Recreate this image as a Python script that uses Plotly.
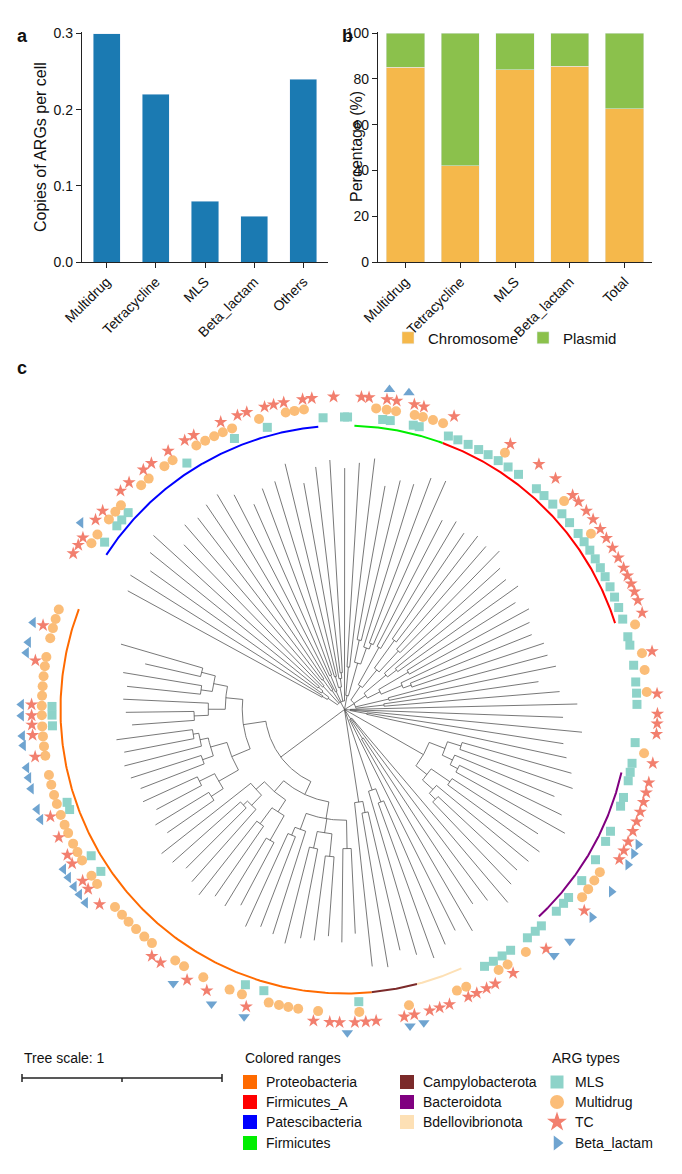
import numpy as np
import plotly.graph_objects as go

W, H = 682, 1174
OFF = 8  # the page body margin that shifts the figure
FW, FH = W - 2 * OFF, H - 2 * OFF

# ---- panel a / b data
ARG_CLASSES = ["Multidrug", "Tetracycline", "MLS", "Beta_lactam", "Others"]
COPIES_PER_CELL = [0.30, 0.22, 0.08, 0.06, 0.24]
LOC_CLASSES = ["Multidrug", "Tetracycline", "MLS", "Beta_lactam", "Total"]
CHROMOSOME_PCT = [85, 42, 84, 85.5, 67]
PLASMID_PCT = [15, 58, 16, 14.5, 33]

# ---- panel c data
TREE_NEWICK = (
    "("
    "(((:0.78,:0.80):0.02,(:0.74,(:0.76,:0.79):0.02):0.03):0.04,(:0.70,:0.75):0.08,"
    "((:0.72,:0.74):0.05,:0.80):0.05,(:0.78,(:0.66,:0.70):0.06):0.04,"
    "((:0.72,:0.77):0.04,(:0.70,(:0.73,:0.75):0.02):0.03):0.05,:0.82):0.03,"
    "((:0.72,:0.74):0.10,((:0.55,:0.58):0.08,(:0.60,(:0.62,:0.63):0.02):0.06):0.12):0.05,"
    "(((:0.50,:0.52):0.15,((:0.45,:0.47):0.12,(:0.48,:0.50):0.10):0.08):0.06,"
    "((:0.55,(:0.50,:0.52):0.04):0.10,((:0.45,:0.48):0.12,(:0.50,(:0.46,:0.49):0.03):0.08):0.05):0.05,"
    "(:0.58,:0.60):0.12,(:0.55,:0.62):0.10):0.04,"
    "(:0.80,:0.75,:0.82,(:0.70,:0.72):0.06):0.02,"
    "(((:0.40,:0.42):0.05,(:0.38,(:0.40,:0.44):0.03):0.04):0.06,"
    "((:0.36,:0.40):0.08,(:0.42,(:0.38,:0.40):0.03):0.05):0.05):0.32,"
    "(:0.85,:0.80,(:0.70,:0.78):0.08,:0.83):0.04,"
    "((:0.55,:0.58):0.05,:0.60):0.30,"
    "((:0.50,:0.55):0.04,:0.58):0.33,"
    "((((:0.30,:0.33):0.10,((:0.28,:0.30):0.08,(:0.32,:0.35):0.06):0.05,(:0.38,(:0.34,:0.36):0.03):0.06):0.06,"
    "(((:0.25,:0.28):0.10,(:0.30,:0.33):0.07):0.05,((:0.34,(:0.30,:0.32):0.02):0.05,:0.40):0.04):0.05):0.05,"
    "((((:0.20,:0.22):0.05,(:0.18,:0.21):0.06):0.08,((:0.24,:0.26):0.04,(:0.28,(:0.25,:0.27):0.02):0.03):0.06):0.07,"
    "(((:0.22,:0.24):0.05,:0.30):0.06,((:0.26,:0.28):0.04,(:0.20,:0.30):0.05):0.05):0.06):0.08):0.28"
    ");"
)
LEAF_START, LEAF_END = 297.0, 648.0  # compass degrees, clockwise

RANGE_NAMES = ["Proteobacteria", "Firmicutes_A", "Patescibacteria", "Firmicutes",
               "Campylobacterota", "Bacteroidota", "Bdellovibrionota"]
RANGE_COLORS = ["#ff6a00", "#ff0000", "#0000ff", "#00ee00",
                "#7b2a2a", "#800080", "#fde0b5"]
RANGE_START = [174.5, 20.2, 303.0, 2.0, 165.2, 102.8, 155.7]
RANGE_END = [290.7, 72.3, 354.7, 20.2, 174.5, 136.8, 165.2]

MLS_ANG = [355.8, 0, 0.6, 7.5, 9, 13.6, 14.8, 20.8, 22.8, 25, 27.3, 29.4, 31.7, 34, 36.5,
           41, 43, 45.4, 48, 50.3, 53, 55, 57, 59, 61, 63, 65.2, 67.4, 69.6, 72, 75.6, 77.3,
           81.3, 84.6, 86.8, 89, 96.5, 100.6, 102.4, 104.1, 107.5, 109.3, 114.6, 116.8, 120.9,
           125.8, 130, 131.5, 133.6, 137.7, 139.3, 141.3, 145.4, 147.4, 149.4, 151.4, 177.2,
           196, 199.8, 236.4, 240, 250, 251.5, 266.8, 268.9, 270.6, 304.9, 308.9, 310.4, 312.3,
           327.4, 337.9, 344.7]
MULTIDRUG_ANG = [303.3, 305.3, 308.9, 310.8, 312.4, 317.8, 319.7, 323.5, 325.4, 330.7, 332.6,
                 334.5, 336.3, 338.2, 343.6, 348.8, 350.5, 352.3, 6, 8, 9.8, 13.4, 15, 17, 19,
                 32, 46.5, 54.5, 73.7, 79.3, 82.5, 86.7, 98.3, 122.5, 124.4, 126.4, 128.3, 143.2,
                 147.4, 149.4, 156.3, 158.2, 167.7, 177.2, 185, 188.8, 190.7, 192.5, 194.5, 199.8,
                 202.3, 207.8, 212, 214, 219.5, 221.4, 223.5, 225.5, 227.3, 229.3, 234.8, 236.7,
                 240.1, 241.9, 243.7, 245.9, 247.6, 249.6, 251.8, 253.6, 255.6, 257.5, 261.2, 263,
                 264.9, 266.8, 268.9, 270.7, 272.6, 274.4, 276.3, 278.2, 280, 283.6, 285.6, 287.4,
                 289.3]
TC_ANG = [299.9, 301.7, 303.3, 307.3, 309.4, 314.3, 316.5, 320, 321.9, 325.7, 329.3, 331.2,
          336.7, 340, 341.8, 345.2, 346.9, 348.8, 352.3, 354, 358, 3.1, 4.5, 7.8, 9.6, 12.9,
          14.7, 20.5, 32, 38.4, 42.4, 46.8, 48.4, 50.6, 52.6, 54.8, 56.8, 58.9, 61, 63.1, 64.7,
          66.3, 67.9, 69.6, 72, 79.3, 87.1, 90.8, 92.6, 94.5, 99.9, 103.5, 105.4, 107.2, 109.1,
          111, 112.9, 115, 116.8, 118.6, 130, 139.9, 147.4, 151.2, 153, 155, 156.7, 160.4, 162.3,
          164.2, 167.1, 169, 174.2, 176.1, 178.1, 180.9, 182.7, 185.7, 198.3, 206.1, 210.2, 216,
          218, 231.5, 235, 236.8, 240.5, 242.3, 245.9, 250, 261.3, 265.3, 267.2, 268.9, 270.9,
          279, 285.6]
BETA_ANG = [305.3, 8, 11.5, 114.7, 116.5, 118.7, 124.3, 130, 135.8, 139.6, 165.8, 168.3, 179.5,
            198.1, 204.3, 212, 233.3, 235.1, 236.8, 238.7, 240.4, 250.1, 252, 255.8, 257.8,
            259.6, 263.6, 265.3, 268.9, 270.9, 280.1, 282, 285.6]

ARG_TYPES = ["MLS", "Multidrug", "TC", "Beta_lactam"]
ARG_COLORS = ["#8ed3c9", "#fbbd78", "#f27f6e", "#6fa4d0"]
ARG_SYMBOLS = ["square", "circle", "star", "triangle"]
ARG_SIZES = [9, 10, 10, 10]
ARG_RING = [1.03, 1.066, 1.102, 1.138]
ARG_ANGLES = [MLS_ANG, MULTIDRUG_ANG, TC_ANG, BETA_ANG]

FONT = "Liberation Sans, Arial, sans-serif"


def parse_newick(s):
    pos = 0

    def node():
        nonlocal pos
        kids = []
        if s[pos] == "(":
            pos += 1
            while True:
                kids.append(node())
                if s[pos] == ",":
                    pos += 1
                    continue
                pos += 1
                break
        length = 0.0
        if s[pos] == ":":
            pos += 1
            j = pos
            while s[pos] in "0123456789.":
                pos += 1
            length = float(s[j:pos])
        return {"len": length, "kids": kids}

    return node()


def count_leaves(n):
    return 1 if not n["kids"] else sum(count_leaves(k) for k in n["kids"])


def polar(r, deg):
    t = np.radians(deg)
    return r * np.sin(t), r * np.cos(t)


def outward_triangle(deg):
    d = deg % 360
    if d < 45 or d >= 315:
        return "triangle-up"
    if d < 135:
        return "triangle-right"
    if d < 225:
        return "triangle-down"
    return "triangle-left"


tree = parse_newick(TREE_NEWICK)
n_leaves = count_leaves(tree)
step = (LEAF_END - LEAF_START) / n_leaves
leaf_i = [0]
tx, ty = [], []


def place(n, r_parent):
    r = r_parent + n["len"]
    if not n["kids"]:
        ang = LEAF_START + (leaf_i[0] + 0.5) * step
        leaf_i[0] += 1
    else:
        angs = [place(k, r) for k in n["kids"]]
        a0, a1 = angs[0], angs[-1]
        ang = (a0 + a1) / 2
        aa = np.linspace(a0, a1, max(2, int(abs(a1 - a0)) + 2))
        x, y = polar(r, aa)
        tx.extend([round(float(v), 5) for v in x] + [None])
        ty.extend([round(float(v), 5) for v in y] + [None])
    x0, y0 = polar(r_parent, ang)
    x1, y1 = polar(r, ang)
    tx.extend([round(float(x0), 5), round(float(x1), 5), None])
    ty.extend([round(float(y0), 5), round(float(y1), 5), None])
    return ang


place(tree, 0.0)

# positions below are page pixels; px/py turn them into figure paper fractions
cx, cy, R = 344.5, 709.5, 284.0
TREE_TOP, TREE_BOTTOM = 378, 1160


def px(x):
    return (x - OFF) / FW


def py(y):
    return 1 - (y - OFF) / FH


def to_tree(xp, yp):
    return (xp - cx) / R, (cy - yp) / R


fig = go.Figure()

# panel a
fig.add_trace(go.Bar(x=ARG_CLASSES, y=COPIES_PER_CELL, marker_color="#1b7ab2", width=0.55,
                     showlegend=False, xaxis="x", yaxis="y"))
# panel b
fig.add_trace(go.Bar(x=LOC_CLASSES, y=CHROMOSOME_PCT, name="Chromosome",
                     marker_color="#f5b84b", width=0.7, xaxis="x2", yaxis="y2"))
fig.add_trace(go.Bar(x=LOC_CLASSES, y=PLASMID_PCT, name="Plasmid",
                     marker_color="#8bc14c", width=0.7, xaxis="x2", yaxis="y2"))

# panel c: tree
fig.add_trace(go.Scatter(x=tx, y=ty, mode="lines", line=dict(color="#555555", width=0.8),
                         showlegend=False, hoverinfo="skip", xaxis="x3", yaxis="y3"))
for name, col, a0, a1 in zip(RANGE_NAMES, RANGE_COLORS, RANGE_START, RANGE_END):
    if a1 < a0:
        a1 += 360
    x, y = polar(1.0, np.linspace(a0, a1, 200))
    fig.add_trace(go.Scatter(x=np.round(x, 5).tolist(), y=np.round(y, 5).tolist(),
                             mode="lines", line=dict(color=col, width=2),
                             showlegend=False, hoverinfo="skip", xaxis="x3", yaxis="y3"))
for name, col, sym, sz, rr, angs in zip(ARG_TYPES, ARG_COLORS, ARG_SYMBOLS, ARG_SIZES,
                                        ARG_RING, ARG_ANGLES):
    x, y = polar(rr, np.array(angs, dtype=float))
    symbols = [outward_triangle(a) for a in angs] if sym == "triangle" else sym
    fig.add_trace(go.Scatter(x=np.round(x, 5).tolist(), y=np.round(y, 5).tolist(),
                             mode="markers",
                             marker=dict(symbol=symbols, color=col, size=sz, line=dict(width=0)),
                             showlegend=False, hoverinfo="skip", xaxis="x3", yaxis="y3"))

leg_y = [1082, 1102, 1122, 1143]
for sym, col, yp, sz in zip(["square", "circle", "star", "triangle-right"], ARG_COLORS,
                            leg_y, [13, 14, 15, 13]):
    lx, ly = to_tree(557, yp)
    fig.add_trace(go.Scatter(x=[lx], y=[ly], mode="markers",
                             marker=dict(symbol=sym, color=col, size=sz, line=dict(width=0)),
                             showlegend=False, hoverinfo="skip", xaxis="x3", yaxis="y3"))

shapes, annos = [], []

range_pos = [(243, 1082), (243, 1102), (243, 1122), (243, 1143),
             (400, 1082), (400, 1102), (400, 1122)]
for (x0, y0), name, col in zip(range_pos, RANGE_NAMES, RANGE_COLORS):
    shapes.append(dict(type="rect", xref="paper", yref="paper", x0=px(x0), x1=px(x0 + 14),
                       y0=py(y0 + 7), y1=py(y0 - 7), fillcolor=col, line=dict(width=0)))
    annos.append(dict(text=name, x=px(x0 + 21), y=py(y0), xref="paper", yref="paper",
                      xanchor="left", yanchor="middle", showarrow=False, font=dict(size=14)))
for t, y0 in zip(ARG_TYPES, leg_y):
    annos.append(dict(text=t, x=px(573), y=py(y0), xref="paper", yref="paper",
                      xanchor="left", yanchor="middle", showarrow=False, font=dict(size=14)))
for t, x0 in [("Tree scale: 1", 22), ("Colored ranges", 243), ("ARG types", 550)]:
    annos.append(dict(text=t, x=px(x0), y=py(1058), xref="paper", yref="paper",
                      xanchor="left", yanchor="middle", showarrow=False, font=dict(size=14)))
for t, x0 in [("Copies of ARGs per cell", 40), ("Percentage (%)", 356)]:
    annos.append(dict(text=t, x=px(x0), y=py(147), xref="paper", yref="paper",
                      xanchor="center", yanchor="middle", textangle=-90,
                      showarrow=False, font=dict(size=16)))
ln = dict(color="#222222", width=1.5)
shapes.append(dict(type="line", xref="paper", yref="paper", x0=px(22), x1=px(222),
                   y0=py(1078), y1=py(1078), line=ln))
for x0, up in [(22, 4), (122, 0), (222, 4)]:
    shapes.append(dict(type="line", xref="paper", yref="paper", x0=px(x0), x1=px(x0),
                       y0=py(1078 - up), y1=py(1082), line=ln))
for t, x0, y0 in [("a", 15, 36), ("b", 340, 36), ("c", 15, 368)]:
    annos.append(dict(text="<b>%s</b>" % t, x=px(x0), y=py(y0), xref="paper", yref="paper",
                      xanchor="left", yanchor="middle", showarrow=False, font=dict(size=18)))

bar_axis = dict(showline=True, linecolor="#222222", linewidth=1.3, ticks="outside",
                ticklen=5, tickcolor="#222222", showgrid=False, zeroline=False,
                tickfont=dict(size=14), automargin=False)
fig.update_layout(
    width=FW, height=FH, margin=dict(l=0, r=0, t=0, b=0),
    plot_bgcolor="white", paper_bgcolor="white",
    font=dict(family=FONT, size=14, color="#111111"),
    barmode="stack",
    xaxis=dict(bar_axis, domain=[px(82), px(328)], tickangle=-45, anchor="y"),
    yaxis=dict(bar_axis, domain=[py(262), py(32)], range=[0, 0.302],
               tickvals=[0, 0.1, 0.2, 0.3], ticktext=["0.0", "0.1", "0.2", "0.3"],
               anchor="x"),
    xaxis2=dict(bar_axis, domain=[px(378), px(652)], tickangle=-45, anchor="y2"),
    yaxis2=dict(bar_axis, domain=[py(262), py(32)], range=[0, 100.5],
                tickvals=[0, 20, 40, 60, 80, 100], anchor="x2"),
    xaxis3=dict(visible=False, automargin=False, domain=[px(OFF), px(W - OFF)],
                range=[-(cx - OFF) / R, (W - OFF - cx) / R], anchor="y3"),
    yaxis3=dict(visible=False, automargin=False, domain=[py(TREE_BOTTOM), py(TREE_TOP)],
                range=[-(TREE_BOTTOM - cy) / R, (cy - TREE_TOP) / R], anchor="x3"),
    legend=dict(orientation="h", x=px(388), y=py(338), xanchor="left", yanchor="middle",
                font=dict(size=15), traceorder="normal", bgcolor="rgba(0,0,0,0)"),
    shapes=shapes, annotations=annos,
)

fig.write_html("out.html")
